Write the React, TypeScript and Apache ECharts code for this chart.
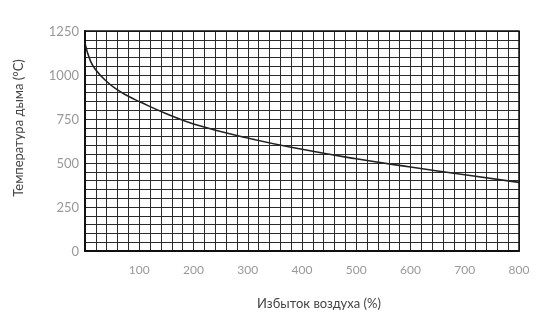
import React, { useEffect, useRef } from "react";
import * as echarts from "echarts";

const excessAir = [0, 10, 20, 40, 60, 80, 100, 150, 200, 300, 400, 500, 600, 700, 800];
const smokeTemp = [1180, 1080, 1028, 963, 915, 879, 849, 780, 722, 642, 578, 524, 477, 433, 390];
const xTicks = [100, 200, 300, 400, 500, 600, 700, 800];
const yTicks = [0, 250, 500, 750, 1000, 1250];

export default function App() {
  const ref = useRef<HTMLDivElement>(null);
  useEffect(() => {
    if (!ref.current) return;
    const chart = echarts.init(ref.current, undefined, { renderer: "svg" });
    const font = "Lato, 'Open Sans', sans-serif";
    chart.setOption({
      animation: false,
      grid: { left: 85, right: 31, top: 31, bottom: 70 },
      xAxis: {
        type: "value",
        min: 0,
        max: 800,
        interval: 100,
        name: "Избыток воздуха (%)",
        nameLocation: "middle",
        nameGap: 45,
        nameTextStyle: { color: "#444", fontSize: 13, fontFamily: font, padding: [0, 0, 0, 34] },
        axisLine: { show: true, onZero: false, lineStyle: { color: "#111", width: 2 } },
        axisTick: { show: false },
        axisLabel: {
          color: "#999",
          fontSize: 12,
          fontFamily: font,
          margin: 12,
          formatter: (v: number) => (xTicks.includes(v) ? String(v) : ""),
        },
        splitLine: { show: true, lineStyle: { color: "#2a2a2a", width: 1 } },
        minorTick: { show: false, splitNumber: 5 },
        minorSplitLine: { show: true, lineStyle: { color: "#2a2a2a", width: 1 } },
      },
      yAxis: {
        type: "value",
        min: 0,
        max: 1250,
        interval: 250,
        name: "Температура дыма (°C)",
        nameLocation: "middle",
        nameGap: 61,
        nameTextStyle: { color: "#444", fontSize: 13, fontFamily: font, padding: [0, 0, 0, 26] },
        axisLine: { show: true, lineStyle: { color: "#111", width: 2 } },
        axisTick: { show: false },
        axisLabel: {
          color: "#999",
          fontSize: 13,
          fontFamily: font,
          margin: 6,
          formatter: (v: number) => (yTicks.includes(v) ? String(v) : ""),
        },
        splitLine: { show: true, lineStyle: { color: "#2a2a2a", width: 1 } },
        minorTick: { show: false, splitNumber: 5 },
        minorSplitLine: { show: true, lineStyle: { color: "#2a2a2a", width: 1 } },
      },
      series: [
        {
          type: "line",
          data: excessAir.map((x, i) => [x, smokeTemp[i]]),
          smooth: 0.5,
          showSymbol: false,
          lineStyle: { color: "#222", width: 1.6 },
          z: 5,
        },
      ],
      graphic: [
        {
          type: "rect",
          shape: { x: 85, y: 31, width: 434, height: 220 },
          style: { fill: "none", stroke: "#111", lineWidth: 1.5 },
          z: 10,
        },
      ],
    });
    return () => chart.dispose();
  }, []);
  return (
    <div
      ref={ref}
      style={{ position: "fixed", left: 0, top: 0, width: 550, height: 321 }}
    />
  );
}
